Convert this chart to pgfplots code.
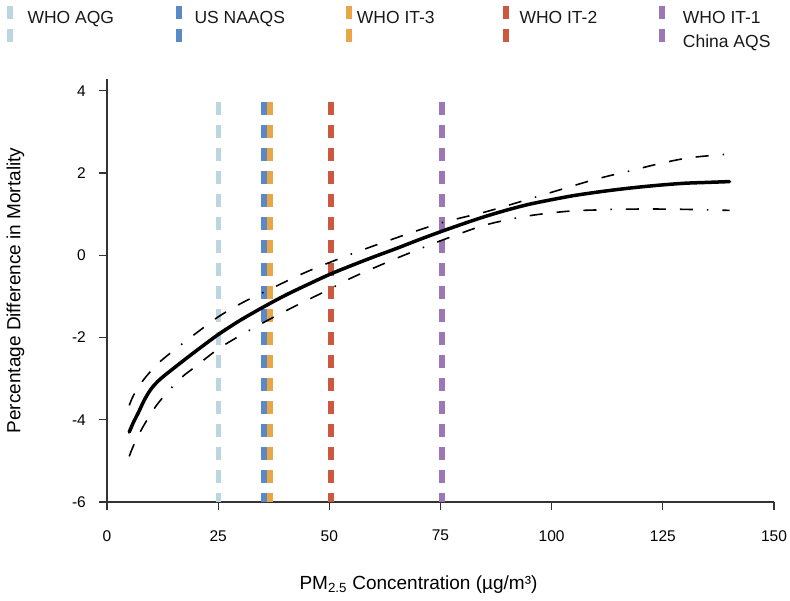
\documentclass[border=0pt]{standalone}
\usepackage{pgfplots}
\pgfplotsset{compat=1.18}
\usepackage{fontspec}
\setmainfont{Liberation Sans}
\definecolor{cAQG}{HTML}{BDD5E1}
\definecolor{cUS}{HTML}{5A89C5}
\definecolor{cIT3}{HTML}{E9A646}
\definecolor{cIT2}{HTML}{CB5840}
\definecolor{cIT1}{HTML}{9B77B3}
\definecolor{axgray}{HTML}{333333}
\newcommand{\legfont}{\fontsize{17.5}{20}\selectfont}
\begin{document}
\begin{tikzpicture}[x=1pt,y=1pt]
\useasboundingbox (0,0) rectangle (790,600);
\begin{axis}[
  at={(107pt,98pt)}, anchor=south west,
  scale only axis, width=667pt, height=423pt,
  xmin=0, xmax=150, ymin=-6, ymax=4.284,
  axis x line*=bottom, axis y line*=left,
  axis line style={axgray, line width=1.3pt, -},
  xtick={0,25,...,150}, ytick={-6,-4,...,4},
  tick align=outside, major tick length=8pt,
  tick style={axgray, line width=1.2pt},
  /pgf/number format/assume math mode=true,
  ticklabel style={font=\fontsize{15.5}{18}\selectfont},
  xticklabel style={anchor=north, inner sep=0pt, yshift=-20pt},
  yticklabel style={anchor=east, inner sep=0pt, xshift=-13pt},
  xlabel={PM\textsubscript{2.5} Concentration (µg/m³)},
  xlabel style={at={(axis description cs:0.467,-0.206)}, anchor=base, inner sep=0pt, font=\fontsize{19}{22}\selectfont},
  ylabel={Percentage Difference in Mortality},
  ylabel style={at={(axis description cs:-0.130,0.5)}, anchor=base, inner sep=0pt, font=\fontsize{19}{22}\selectfont},
]
% reference lines (drawn from top to bottom so dashes start at the top)
\addplot[cAQG, line width=4.5pt, dash pattern=on 13pt off 10pt] coordinates {(25.1,3.725) (25.1,-6)};
\addplot[cUS, line width=6pt, dash pattern=on 13pt off 10pt] coordinates {(35.2,3.725) (35.2,-6)};
\addplot[cIT3, line width=6pt, dash pattern=on 13pt off 10pt] coordinates {(36.6,3.725) (36.6,-6)};
\addplot[cIT2, line width=6pt, dash pattern=on 13pt off 10pt] coordinates {(50.3,3.725) (50.3,-6)};
\addplot[cIT1, line width=6pt, dash pattern=on 13pt off 10pt] coordinates {(75.3,3.725) (75.3,-6)};
% upper CI
\addplot[black, line width=1.6pt, smooth, dash pattern=on 13pt off 14pt on 13pt off 14pt on 13pt off 14pt on 1.5pt off 14pt] coordinates {
(5,-3.65) (6,-3.40) (8,-3.06) (10,-2.80) (12,-2.58) (16,-2.23) (20,-1.90) (25,-1.50) (30,-1.18) (36,-0.86) (45,-0.40) (55,0.03) (65,0.42) (75,0.78) (85,1.05) (92,1.27) (100,1.53) (110,1.85) (118,2.06) (124,2.22) (131,2.37) (140,2.46)};
% lower CI
\addplot[black, line width=1.6pt, smooth, dash pattern=on 13pt off 14pt on 13pt off 14pt on 13pt off 14pt on 1.5pt off 14pt] coordinates {
(5,-4.89) (6,-4.62) (8,-4.19) (11,-3.67) (14,-3.28) (17,-2.95) (20,-2.70) (25,-2.28) (30,-1.95) (36,-1.59) (43,-1.20) (50,-0.83) (55,-0.55) (65,-0.08) (75,0.35) (84,0.70) (90,0.86) (95,0.96) (100,1.03) (105,1.08) (110,1.10) (116,1.12) (127,1.12) (140,1.09)};
% central estimate
\addplot[black, line width=3.5pt, smooth, line cap=round] coordinates {
(5,-4.30) (6,-4.05) (7,-3.84) (8.4,-3.52) (10,-3.24) (12,-3.01) (15.8,-2.68) (20,-2.33) (25,-1.93) (30,-1.58) (35,-1.27) (40,-0.98) (45,-0.72) (50,-0.47) (55,-0.25) (60,-0.04) (65,0.16) (70,0.37) (75,0.57) (80,0.76) (85,0.94) (90,1.10) (95,1.24) (100,1.35) (105,1.45) (110,1.53) (115,1.60) (120,1.66) (125,1.71) (130,1.75) (135,1.77) (140,1.79)};
\end{axis}
% legend
\draw[cAQG, line width=5.5pt, dash pattern=on 13pt off 10pt] (10,594.3) -- (10,558.3);
\draw[cUS, line width=5.5pt, dash pattern=on 13pt off 10pt] (179,594.3) -- (179,558.3);
\draw[cIT3, line width=5.5pt, dash pattern=on 13pt off 10pt] (349,594.3) -- (349,558.3);
\draw[cIT2, line width=5.5pt, dash pattern=on 13pt off 10pt] (506,594.3) -- (506,558.3);
\draw[cIT1, line width=5.5pt, dash pattern=on 13pt off 10pt] (662,594.3) -- (662,558.3);
\node[anchor=base west, inner sep=0pt, font=\legfont, text=black!90] at (27.3,576) {WHO AQG};
\node[anchor=base west, inner sep=0pt, font=\legfont, text=black!90] at (194.3,576) {US NAAQS};
\node[anchor=base west, inner sep=0pt, font=\legfont, text=black!90] at (356.7,576) {WHO IT-3};
\node[anchor=base west, inner sep=0pt, font=\legfont, text=black!90] at (519.3,576) {WHO IT-2};
\node[anchor=base west, inner sep=0pt, font=\legfont, text=black!90] at (682.7,576) {WHO IT-1};
\node[anchor=base west, inner sep=0pt, font=\legfont, text=black!90] at (682.7,552.5) {China AQS};
\end{tikzpicture}
\end{document}
